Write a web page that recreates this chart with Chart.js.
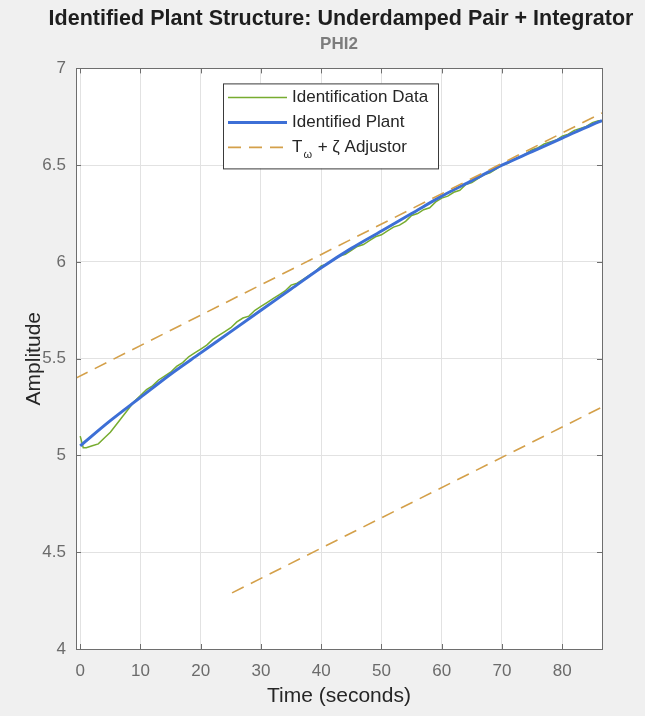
<!DOCTYPE html>
<html>
<head>
<meta charset="utf-8">
<title>PHI2 plant identification</title>
<script src="https://cdn.jsdelivr.net/npm/chart.js@4.4.1/dist/chart.umd.min.js"></script>
<style>
    html, body { margin: 0; padding: 0; background: #f0f0f0; }
    #wrap { width: 645px; height: 716px; }
</style>
</head>
<body>
<div id="wrap"><canvas id="js-chart-phi2" width="645" height="716"></canvas></div>
<script>
// Identification data (noisy measured response)
const dataTime = [0, 0.5, 1, 2, 3, 4, 5, 6, 7, 8, 9, 10, 11, 12, 13, 14, 15, 16, 17, 18, 19, 20,
    21, 22, 23, 24, 25, 26, 27, 28, 29, 30, 31, 32, 33, 34, 35, 36, 37, 38, 39, 40,
    41, 42, 43, 44, 45, 46, 47, 48, 49, 50, 51, 52, 53, 54, 55, 56, 57, 58, 59, 60,
    61, 62, 63, 64, 65, 66, 67, 68, 69, 70, 71, 72, 73, 74, 75, 76, 77, 78, 79, 80,
    81, 82, 83, 84, 85, 86, 86.6];
const dataAmplitude = [5.10, 5.04, 5.04, 5.05, 5.06, 5.09, 5.12, 5.16, 5.20, 5.24, 5.28, 5.31,
    5.34, 5.36, 5.39, 5.41, 5.43, 5.46, 5.48, 5.51, 5.53, 5.55,
    5.57, 5.60, 5.62, 5.64, 5.66, 5.69, 5.71, 5.72, 5.75, 5.77,
    5.79, 5.81, 5.83, 5.85, 5.88, 5.89, 5.91, 5.93, 5.95, 5.98,
    5.99, 6.01, 6.03, 6.04, 6.06, 6.08, 6.09, 6.11, 6.13, 6.14,
    6.16, 6.18, 6.19, 6.21, 6.24, 6.25, 6.27, 6.28, 6.31, 6.33,
    6.34, 6.36, 6.37, 6.40, 6.41, 6.43, 6.45, 6.46, 6.48, 6.50,
    6.51, 6.53, 6.54, 6.56, 6.58, 6.59, 6.61, 6.62, 6.63, 6.65,
    6.66, 6.68, 6.69, 6.70, 6.72, 6.73, 6.73];

// Identified plant (smooth fit)
const plantTime = [0, 5, 10, 15, 20, 25, 30, 35, 40, 45, 50, 55, 60, 65, 70, 75, 80, 85, 86.6];
const plantAmplitude = [5.05, 5.18, 5.30, 5.42, 5.53, 5.64, 5.75, 5.86, 5.97, 6.07, 6.16, 6.25,
    6.34, 6.42, 6.50, 6.57, 6.64, 6.71, 6.73];

// T_omega + zeta adjustor (two straight dashed segments)
const adjustUpperTime = [-0.7, 86.6];
const adjustUpperAmplitude = [5.40, 6.77];
const adjustLowerTime = [25.2, 86.6];
const adjustLowerAmplitude = [4.29, 5.25];

const seriesLabels = ["Identification Data", "Identified Plant", "T_\u03c9 + \u03b6 Adjustor"];
const xTicks = [0, 10, 20, 30, 40, 50, 60, 70, 80];
const yTicks = [4, 4.5, 5, 5.5, 6, 6.5, 7];
const figureTitle = "Identified Plant Structure: Underdamped Pair + Integrator";

const FONT = '"Liberation Sans", Arial, Helvetica, sans-serif';

function toPoints(xs, ys) {
    return xs.map((x, i) => ({ x: x, y: ys[i] }));
}

// figure title (sgtitle) - wider than the axes, so drawn without a max width
const figTitle = {
    id: "figTitle",
    afterDraw(chart) {
        const { ctx, chartArea: a } = chart;
        ctx.save();
        ctx.font = "bold 21.5px " + FONT;
        ctx.fillStyle = "#1e1e1e";
        ctx.textAlign = "center";
        ctx.textBaseline = "middle";
        ctx.fillText(figureTitle, (a.left + a.right) / 2 + 2, 19);
        ctx.restore();
    }
};

// white axes box, MATLAB-style inward tick marks on all four sides
const axesBox = {
    id: "axesBox",
    beforeDraw(chart) {
        const { ctx, chartArea: a } = chart;
        ctx.save();
        ctx.fillStyle = "#ffffff";
        ctx.fillRect(a.left, a.top, a.width, a.height);
        ctx.restore();
    },
    afterDatasetsDraw(chart) {
        const { ctx, chartArea: a, scales } = chart;
        const len = 5;
        ctx.save();
        ctx.strokeStyle = "#6e6e6e";
        ctx.lineWidth = 1;
        ctx.beginPath();
        scales.x.ticks.forEach((t) => {
            const px = Math.round(scales.x.getPixelForValue(t.value)) + 0.5;
            ctx.moveTo(px, a.bottom); ctx.lineTo(px, a.bottom - len);
            ctx.moveTo(px, a.top); ctx.lineTo(px, a.top + len);
        });
        scales.y.ticks.forEach((t) => {
            const py = Math.round(scales.y.getPixelForValue(t.value)) + 0.5;
            ctx.moveTo(a.left, py); ctx.lineTo(a.left + len, py);
            ctx.moveTo(a.right, py); ctx.lineTo(a.right - len, py);
        });
        ctx.stroke();
        ctx.strokeRect(Math.round(a.left) + 0.5, Math.round(a.top) + 0.5,
            Math.round(a.width), Math.round(a.height));
        ctx.restore();
    }
};

// legend box inside the axes (north-west of centre, like the MATLAB figure)
const insetLegend = {
    id: "insetLegend",
    afterDraw(chart, args, opts) {
        const { ctx, chartArea: a } = chart;
        const x0 = a.left + opts.offsetX;
        const y0 = a.top + opts.offsetY;
        ctx.save();
        ctx.fillStyle = "#ffffff";
        ctx.fillRect(x0, y0, opts.width, opts.height);
        ctx.strokeStyle = "#3a3a3a";
        ctx.lineWidth = 1;
        ctx.strokeRect(x0 + 0.5, y0 + 0.5, opts.width, opts.height);

        seriesLabels.forEach((label, i) => {
            const ds = chart.data.datasets[i];
            const y = y0 + opts.firstRow + i * opts.rowGap;
            ctx.beginPath();
            ctx.setLineDash(ds.borderDash || []);
            ctx.strokeStyle = ds.borderColor;
            ctx.lineWidth = ds.borderWidth;
            ctx.moveTo(x0 + 5, y);
            ctx.lineTo(x0 + 64, y);
            ctx.stroke();
            ctx.setLineDash([]);

            ctx.fillStyle = "#262626";
            ctx.textBaseline = "middle";
            ctx.textAlign = "left";
            let tx = x0 + 69;
            const parts = label.split("_");
            ctx.font = "17px " + FONT;
            ctx.fillText(parts[0], tx, y);
            tx += ctx.measureText(parts[0]).width;
            if (parts.length > 1) {
                const sub = parts[1].charAt(0);
                ctx.font = "11px " + FONT;
                ctx.fillText(sub, tx + 1, y + 8);
                tx += ctx.measureText(sub).width + 2;
                ctx.font = "17px " + FONT;
                ctx.fillText(parts[1].slice(1), tx, y);
            }
        });
        ctx.restore();
    }
};

document.addEventListener("DOMContentLoaded", function () {
    Chart.defaults.font.family = FONT;
    Chart.defaults.color = "#666666";
    Chart.defaults.elements.point.radius = 0;
    Chart.defaults.elements.point.hoverRadius = 0;

    const element = document.getElementById("js-chart-phi2");
    new Chart(element, {
        type: "line",
        data: {
            datasets: [
                {
                    label: seriesLabels[0],
                    data: toPoints(dataTime, dataAmplitude),
                    borderColor: "#77ac30",
                    borderWidth: 1.5,
                    tension: 0,
                    order: 3
                },
                {
                    label: seriesLabels[1],
                    data: toPoints(plantTime, plantAmplitude),
                    borderColor: "#3d6fd6",
                    borderWidth: 3,
                    cubicInterpolationMode: "monotone",
                    order: 2
                },
                {
                    label: seriesLabels[2],
                    data: toPoints(adjustUpperTime, adjustUpperAmplitude),
                    borderColor: "#d4a04a",
                    borderWidth: 1.6,
                    borderDash: [13, 8],
                    order: 1
                },
                {
                    label: seriesLabels[2] + " (lower)",
                    data: toPoints(adjustLowerTime, adjustLowerAmplitude),
                    borderColor: "#d4a04a",
                    borderWidth: 1.6,
                    borderDash: [13, 8],
                    order: 1
                }
            ]
        },
        options: {
            responsive: false,
            animation: false,
            devicePixelRatio: 1,
            layout: { padding: { left: 0, right: 43, top: 0, bottom: 0 } },
            scales: {
                x: {
                    type: "linear",
                    min: -0.7,
                    max: 86.6,
                    afterBuildTicks: (scale) => { scale.ticks = xTicks.map((v) => ({ value: v })); },
                    afterFit: (scale) => { scale.height = 67; },
                    grid: { color: "#e2e2e2", drawTicks: false },
                    border: { display: false },
                    ticks: {
                        padding: 12,
                        color: "#6b6b6b",
                        font: { size: 17 },
                        maxRotation: 0,
                        callback: (v) => String(v)
                    },
                    title: {
                        display: true,
                        text: "Time (seconds)",
                        color: "#262626",
                        font: { size: 21 },
                        padding: { top: 0, bottom: 7 }
                    }
                },
                y: {
                    type: "linear",
                    min: 4,
                    max: 7,
                    afterBuildTicks: (scale) => { scale.ticks = yTicks.map((v) => ({ value: v })); },
                    afterFit: (scale) => { scale.width = 76; },
                    grid: { color: "#e2e2e2", drawTicks: false },
                    border: { display: false },
                    ticks: {
                        padding: 10,
                        color: "#6b6b6b",
                        font: { size: 17 },
                        callback: (v) => String(v)
                    },
                    title: {
                        display: true,
                        text: "Amplitude",
                        color: "#262626",
                        font: { size: 21 },
                        padding: { top: 22, bottom: 0 }
                    }
                }
            },
            plugins: {
                legend: { display: false },
                tooltip: { enabled: false },
                title: { display: false },
                subtitle: {
                    display: true,
                    fullSize: false,
                    text: "PHI2",
                    color: "#7c7c7c",
                    font: { size: 17, weight: "bold", lineHeight: 1.2 },
                    padding: { top: 34, bottom: 14 }
                },
                insetLegend: {
                    offsetX: 147,
                    offsetY: 15,
                    width: 215,
                    height: 85,
                    firstRow: 14,
                    rowGap: 25
                }
            }
        },
        plugins: [axesBox, insetLegend, figTitle]
    });
});
</script>
</body>
</html>
